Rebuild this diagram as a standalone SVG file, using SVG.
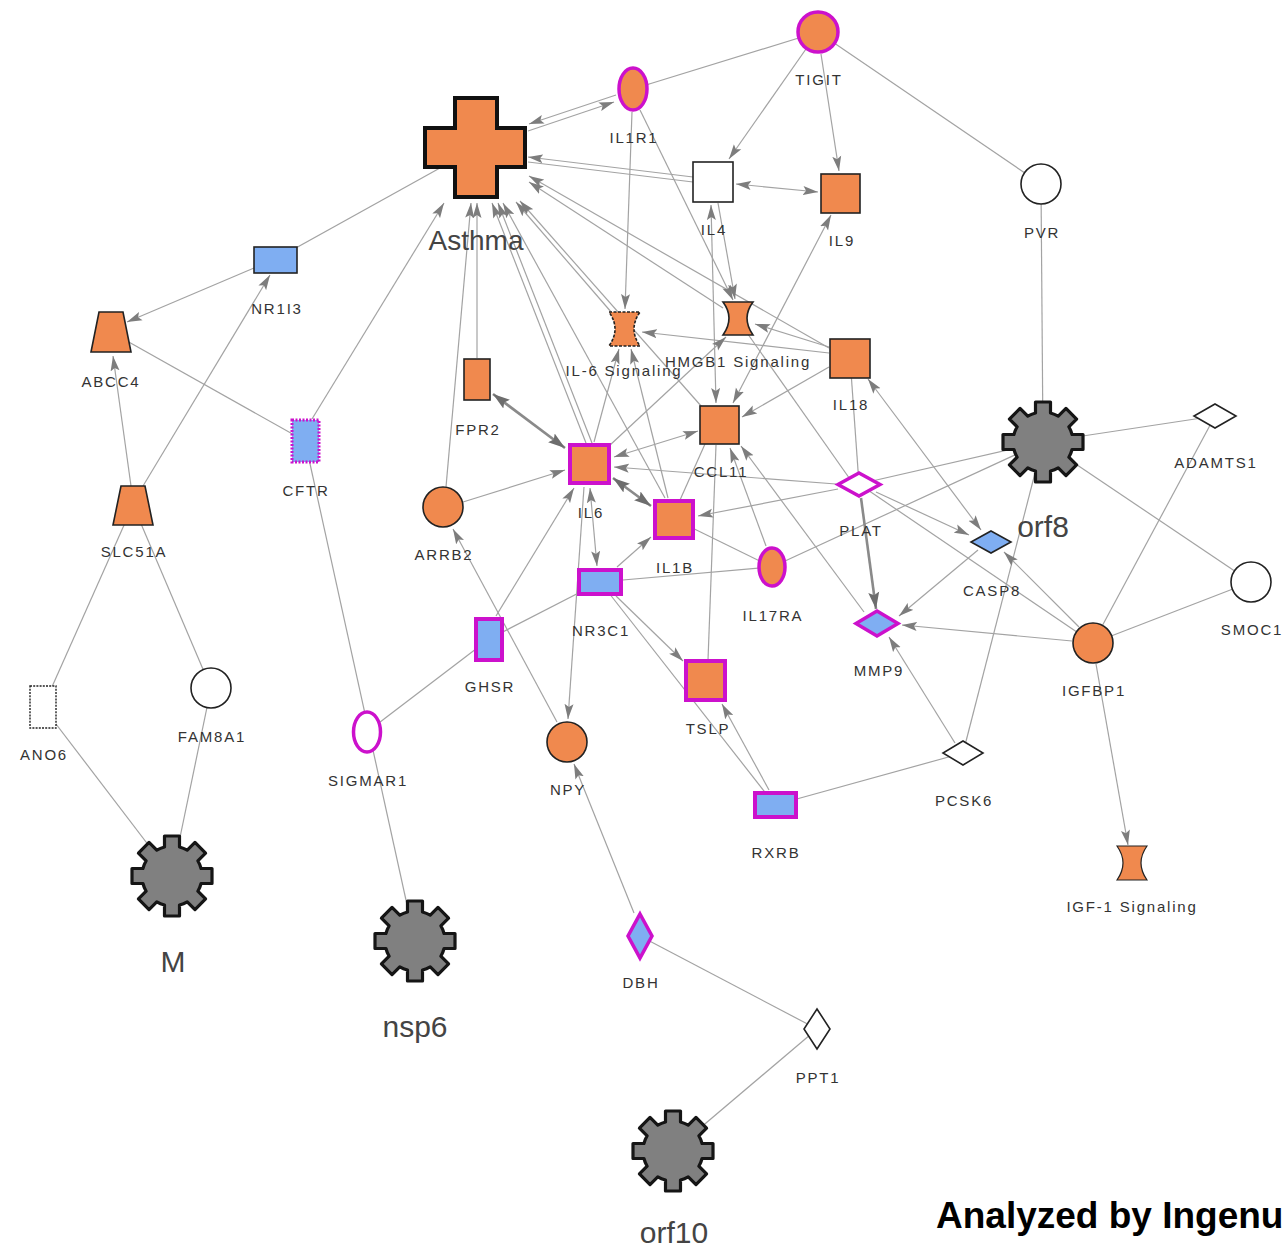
<svg xmlns="http://www.w3.org/2000/svg" xmlns:xlink="http://www.w3.org/1999/xlink" width="1285" height="1249" viewBox="0 0 1285 1249">
<style>
.e{stroke:#a3a3a3;stroke-width:1.2;fill:none}
.a{stroke:#a3a3a3;stroke-width:1.2;fill:none;marker-end:url(#ah)}
.b{stroke:#a3a3a3;stroke-width:1.2;fill:none;marker-end:url(#ah);marker-start:url(#ahs)}
.t{stroke:#8a8a8a;stroke-width:2.6;fill:none;marker-end:url(#ah2)}
.tb{stroke:#8a8a8a;stroke-width:2.6;fill:none;marker-end:url(#ah2);marker-start:url(#ah2s)}
.or{fill:#F0894E;stroke:#222;stroke-width:1.6}
.orm{fill:#F0894E;stroke:#CC11CC;stroke-width:4}
.blm{fill:#7FAEF2;stroke:#CC11CC;stroke-width:4}
.bl{fill:#7FAEF2;stroke:#222;stroke-width:1.6}
.wh{fill:#fff;stroke:#222;stroke-width:1.6}
.whm{fill:#fff;stroke:#CC11CC;stroke-width:3.5}
.gear{fill:#808080;stroke:#151515;stroke-width:3.2;stroke-linejoin:round}
.lb{font-family:"Liberation Sans",Arial,sans-serif;font-size:15px;fill:#333;text-anchor:middle;letter-spacing:1.8px}
.lg{font-family:"Liberation Sans",Arial,sans-serif;font-size:30px;fill:#444;text-anchor:middle}
</style>
<defs>
<marker id="ah" markerUnits="userSpaceOnUse" markerWidth="16" markerHeight="10" refX="15" refY="5" orient="auto"><path d="M0,0.5 L15,5 L0,9.5 L3,5 z" fill="#7d7d7d"/></marker>
<marker id="ahs" markerUnits="userSpaceOnUse" markerWidth="16" markerHeight="10" refX="15" refY="5" orient="auto-start-reverse"><path d="M0,0.5 L15,5 L0,9.5 L3,5 z" fill="#7d7d7d"/></marker>
<marker id="ah2" markerUnits="userSpaceOnUse" markerWidth="18" markerHeight="12" refX="17" refY="6" orient="auto"><path d="M0,0.5 L17,6 L0,11.5 L3,6 z" fill="#6d6d6d"/></marker>
<marker id="ah2s" markerUnits="userSpaceOnUse" markerWidth="18" markerHeight="12" refX="17" refY="6" orient="auto-start-reverse"><path d="M0,0.5 L17,6 L0,11.5 L3,6 z" fill="#6d6d6d"/></marker>
<path id="gearp" d="M-7.5,-29.05 L-7.5,-40 L7.5,-40 L7.5,-29.05 A30 30 0 0 1 15.24,-25.84 L22.98,-33.58 L33.58,-22.98 L25.84,-15.24 A30 30 0 0 1 29.05,-7.5 L40,-7.5 L40,7.5 L29.05,7.5 A30 30 0 0 1 25.84,15.24 L33.58,22.98 L22.98,33.58 L15.24,25.84 A30 30 0 0 1 7.5,29.05 L7.5,40 L-7.5,40 L-7.5,29.05 A30 30 0 0 1 -15.24,25.84 L-22.98,33.58 L-33.58,22.98 L-25.84,15.24 A30 30 0 0 1 -29.05,7.5 L-40,7.5 L-40,-7.5 L-29.05,-7.5 A30 30 0 0 1 -25.84,-15.24 L-33.58,-22.98 L-22.98,-33.58 L-15.24,-25.84 A30 30 0 0 1 -7.5,-29.05 Z"/>
</defs>
<rect width="1285" height="1249" fill="#fff"/>
<g id="connectors">
<line class="e" x1="818" y1="32" x2="633" y2="89"/>
<line class="e" x1="818" y1="32" x2="1041" y2="184"/>
<line class="e" x1="850" y1="358" x2="859" y2="484"/>
<line class="e" x1="674" y1="519" x2="772" y2="567"/>
<line class="e" x1="680" y1="500" x2="705" y2="444"/>
<line class="e" x1="708" y1="660" x2="716" y2="445"/>
<line class="e" x1="600" y1="582" x2="772" y2="567"/>
<line class="e" x1="489" y1="639" x2="600" y2="582"/>
<line class="e" x1="605" y1="588" x2="775" y2="805"/>
<line class="e" x1="775" y1="805" x2="963" y2="753"/>
<line class="e" x1="367" y1="732" x2="489" y2="639"/>
<line class="e" x1="305" y1="441" x2="415" y2="941"/>
<line class="e" x1="640" y1="936" x2="817" y2="1029"/>
<line class="e" x1="817" y1="1029" x2="673" y2="1151"/>
<line class="e" x1="111" y1="332" x2="305" y2="441"/>
<line class="e" x1="43" y1="707" x2="133" y2="505"/>
<line class="e" x1="211" y1="688" x2="133" y2="505"/>
<line class="e" x1="43" y1="707" x2="172" y2="876"/>
<line class="e" x1="211" y1="688" x2="172" y2="876"/>
<line class="e" x1="1041" y1="184" x2="1043" y2="442"/>
<line class="e" x1="1043" y1="442" x2="1215" y2="416"/>
<line class="e" x1="1043" y1="442" x2="1251" y2="582"/>
<line class="e" x1="1043" y1="442" x2="859" y2="484"/>
<line class="e" x1="1043" y1="442" x2="772" y2="567"/>
<line class="e" x1="1043" y1="442" x2="963" y2="753"/>
<line class="e" x1="1215" y1="416" x2="1093" y2="643"/>
<line class="e" x1="1251" y1="582" x2="1093" y2="643"/>
<line class="e" x1="1093" y1="643" x2="859" y2="484"/>
<line class="e" x1="276" y1="259" x2="476" y2="148"/>
<line class="e" x1="745" y1="330" x2="852" y2="482"/>
<line class="a" x1="616" y1="95" x2="529" y2="124"/>
<line class="a" x1="528" y1="131" x2="614" y2="102"/>
<line class="a" x1="693" y1="177" x2="528" y2="157"/>
<line class="e" x1="693" y1="182" x2="528" y2="162"/>
<line class="a" x1="829" y1="348" x2="529" y2="176"/>
<line class="a" x1="723" y1="308" x2="529" y2="182"/>
<line class="a" x1="702" y1="407" x2="520" y2="201"/>
<line class="a" x1="612" y1="313" x2="516" y2="202"/>
<line class="a" x1="665" y1="498" x2="503" y2="203"/>
<line class="a" x1="586" y1="443" x2="492" y2="203"/>
<line class="a" x1="592" y1="443" x2="498" y2="203"/>
<line class="a" x1="477" y1="358" x2="477" y2="203"/>
<line class="a" x1="446" y1="487" x2="471" y2="203"/>
<line class="a" x1="312" y1="419" x2="444" y2="203"/>
<line class="a" x1="806" y1="49" x2="729" y2="159"/>
<line class="a" x1="821" y1="54" x2="839" y2="171"/>
<line class="a" x1="632" y1="112" x2="625" y2="309"/>
<line class="a" x1="640" y1="110" x2="733" y2="300"/>
<line class="a" x1="718" y1="203" x2="735" y2="299"/>
<line class="b" x1="711" y1="205" x2="716" y2="403"/>
<line class="b" x1="736" y1="184" x2="818" y2="192"/>
<line class="b" x1="831" y1="215" x2="733" y2="403"/>
<line class="a" x1="829" y1="353" x2="642" y2="332"/>
<line class="a" x1="829" y1="347" x2="755" y2="324"/>
<line class="a" x1="829" y1="367" x2="742" y2="417"/>
<line class="a" x1="594" y1="442" x2="619" y2="349"/>
<line class="a" x1="668" y1="498" x2="631" y2="349"/>
<line class="a" x1="609" y1="446" x2="726" y2="337"/>
<line class="a" x1="463" y1="502" x2="565" y2="470"/>
<line class="a" x1="496" y1="616" x2="574" y2="488"/>
<line class="tb" x1="493" y1="394" x2="565" y2="448"/>
<line class="b" x1="698" y1="431" x2="614" y2="457"/>
<line class="a" x1="836" y1="484" x2="614" y2="467"/>
<line class="tb" x1="613" y1="478" x2="651" y2="506"/>
<line class="b" x1="590" y1="488" x2="597" y2="566"/>
<line class="a" x1="584" y1="487" x2="568" y2="719"/>
<line class="a" x1="617" y1="567" x2="651" y2="537"/>
<line class="a" x1="838" y1="489" x2="698" y2="516"/>
<line class="a" x1="616" y1="596" x2="683" y2="661"/>
<line class="a" x1="769" y1="790" x2="722" y2="704"/>
<line class="a" x1="634" y1="913" x2="574" y2="764"/>
<line class="a" x1="557" y1="722" x2="453" y2="529"/>
<line class="a" x1="864" y1="612" x2="741" y2="446"/>
<line class="a" x1="766" y1="546" x2="730" y2="448"/>
<line class="a" x1="254" y1="268" x2="127" y2="322"/>
<line class="a" x1="143" y1="486" x2="270" y2="275"/>
<line class="a" x1="131" y1="486" x2="113" y2="356"/>
<line class="a" x1="876" y1="492" x2="969" y2="535"/>
<line class="b" x1="868" y1="379" x2="981" y2="530"/>
<line class="a" x1="978" y1="550" x2="899" y2="616"/>
<line class="t" x1="861" y1="498" x2="876" y2="609"/>
<line class="a" x1="1072" y1="641" x2="902" y2="625"/>
<line class="a" x1="1079" y1="627" x2="1004" y2="552"/>
<line class="a" x1="955" y1="743" x2="889" y2="637"/>
<line class="a" x1="1096" y1="664" x2="1128" y2="845"/>
</g>
<g id="n-asthma"><path class="or" style="stroke:#111;stroke-width:4" d="M455,98 H497 V128 H525 V167 H497 V197 H455 V167 H425 V128 H455 Z"/><text x="476" y="250" style="font-family:'Liberation Sans',Arial,sans-serif;font-size:28px;fill:#444;text-anchor:middle">Asthma</text></g>
<g id="n-tigit"><circle class="orm" cx="818" cy="32" r="20" style="stroke-width:3.5"/><text class="lb" x="819" y="85">TIGIT</text></g>
<g id="n-il1r1"><ellipse class="orm" cx="633" cy="89" rx="14" ry="21" style="stroke-width:3.5"/><text class="lb" x="634" y="143">IL1R1</text></g>
<g id="n-il4"><rect class="wh" x="693" y="162" width="40" height="40"/><text class="lb" x="714" y="235">IL4</text></g>
<g id="n-il9"><rect class="or" x="821" y="174" width="39" height="39"/><text class="lb" x="842" y="246">IL9</text></g>
<g id="n-pvr"><circle class="wh" cx="1041" cy="184" r="20"/><text class="lb" x="1042" y="238">PVR</text></g>
<g id="n-nr1i3"><rect class="bl" x="254" y="247" width="43" height="26"/><text class="lb" x="277" y="314">NR1I3</text></g>
<g id="n-abcc4"><path class="or" d="M99,312 H123 L131,352 H91 Z"/><text class="lb" x="111" y="387">ABCC4</text></g>
<g id="n-cftr"><rect x="292" y="420" width="27" height="42" fill="#7FAEF2" stroke="#CC11CC" stroke-width="3" stroke-dasharray="2,1.5"/><text class="lb" x="306" y="496">CFTR</text></g>
<g id="n-il6sig"><path class="or" style="stroke-dasharray:3,1.5" d="M609,312 H640 Q628,329 640,346 H609 Q621,329 609,312 Z"/><text class="lb" x="624" y="376">IL-6 Signaling</text></g>
<g id="n-hmgb1"><path class="or" d="M723,302 H753 Q741,318 753,335 H723 Q735,318 723,302 Z"/><text class="lb" x="738" y="367">HMGB1 Signaling</text></g>
<g id="n-il18"><rect class="or" x="830" y="339" width="40" height="39"/><text class="lb" x="851" y="410">IL18</text></g>
<g id="n-fpr2"><rect class="or" x="464" y="359" width="26" height="41"/><text class="lb" x="478" y="435">FPR2</text></g>
<g id="n-ccl11"><rect class="or" x="700" y="406" width="39" height="38"/><text class="lb" x="721" y="477">CCL11</text></g>
<g id="n-il6"><rect class="orm" x="570" y="445" width="39" height="38"/><text class="lb" x="591" y="518">IL6</text></g>
<g id="n-arrb2"><circle class="or" cx="443" cy="507" r="20"/><text class="lb" x="444" y="560">ARRB2</text></g>
<g id="n-plat"><path class="whm" d="M859,473 L880,484.5 L859,496 L838,484.5 Z"/><text class="lb" x="861" y="536">PLAT</text></g>
<g id="n-il1b"><rect class="orm" x="655" y="501" width="38" height="37"/><text class="lb" x="675" y="573">IL1B</text></g>
<g id="n-casp8"><path class="bl" d="M991,531 L1011,542 L991,553 L971,542 Z"/><text class="lb" x="992" y="596">CASP8</text></g>
<g id="n-orf8"><use xlink:href="#gearp" href="#gearp" class="gear" x="1043" y="442"/><text class="lg" x="1043" y="537">orf8</text></g>
<g id="n-adamts1"><path class="wh" d="M1215,404 L1236,416 L1215,428 L1194,416 Z"/><text class="lb" x="1216" y="468">ADAMTS1</text></g>
<g id="n-slc51a"><path class="or" d="M121,486 H145 L153,525 H113 Z"/><text class="lb" x="134" y="557">SLC51A</text></g>
<g id="n-nr3c1"><rect class="blm" x="579" y="570" width="42" height="24"/><text class="lb" x="601" y="636">NR3C1</text></g>
<g id="n-il17ra"><ellipse class="orm" cx="772" cy="567" rx="13" ry="19" style="stroke-width:3.5"/><text class="lb" x="773" y="621">IL17RA</text></g>
<g id="n-mmp9"><path class="blm" style="stroke-width:3.5" d="M877,611 L898,623.5 L877,636 L856,623.5 Z"/><text class="lb" x="879" y="676">MMP9</text></g>
<g id="n-smoc1"><circle class="wh" cx="1251" cy="582" r="20"/><text class="lb" x="1252" y="635">SMOC1</text></g>
<g id="n-igfbp1"><circle class="or" cx="1093" cy="643" r="20"/><text class="lb" x="1094" y="696">IGFBP1</text></g>
<g id="n-ghsr"><rect class="blm" x="476" y="619" width="26" height="41"/><text class="lb" x="490" y="692">GHSR</text></g>
<g id="n-tslp"><rect class="orm" x="686" y="661" width="39" height="39"/><text class="lb" x="708" y="734">TSLP</text></g>
<g id="n-ano6"><rect x="30" y="686" width="26" height="42" fill="#fff" stroke="#222" stroke-width="1.4" stroke-dasharray="2,1.2"/><text class="lb" x="44" y="760">ANO6</text></g>
<g id="n-fam8a1"><circle class="wh" cx="211" cy="688" r="20"/><text class="lb" x="212" y="742">FAM8A1</text></g>
<g id="n-sigmar1"><ellipse class="whm" cx="367" cy="732" rx="13.5" ry="20"/><text class="lb" x="368" y="786">SIGMAR1</text></g>
<g id="n-npy"><circle class="or" cx="567" cy="742" r="20"/><text class="lb" x="568" y="795">NPY</text></g>
<g id="n-pcsk6"><path class="wh" d="M963,741 L983,753 L963,765 L943,753 Z"/><text class="lb" x="964" y="806">PCSK6</text></g>
<g id="n-rxrb"><rect class="blm" x="755" y="793" width="41" height="24"/><text class="lb" x="776" y="858">RXRB</text></g>
<g id="n-m"><use xlink:href="#gearp" href="#gearp" class="gear" x="172" y="876"/><text class="lg" x="173" y="972">M</text></g>
<g id="n-igf1"><path class="or" style="stroke-width:1.2" d="M1117,846 H1147 Q1135,863 1147,880 H1117 Q1129,863 1117,846 Z"/><text class="lb" x="1132" y="912">IGF-1 Signaling</text></g>
<g id="n-nsp6"><use xlink:href="#gearp" href="#gearp" class="gear" x="415" y="941"/><text class="lg" x="415" y="1037">nsp6</text></g>
<g id="n-dbh"><path class="blm" style="stroke-width:3.5" d="M640,914 L652,936 L640,958 L628,936 Z"/><text class="lb" x="641" y="988">DBH</text></g>
<g id="n-ppt1"><path class="wh" d="M817,1009 L830,1029 L817,1049 L804,1029 Z"/><text class="lb" x="818" y="1083">PPT1</text></g>
<g id="n-orf10"><use xlink:href="#gearp" href="#gearp" class="gear" x="673" y="1151"/><text class="lg" x="674" y="1243">orf10</text></g>
<text x="936" y="1228" style="font-family:'Liberation Sans',Arial,sans-serif;font-size:37px;font-weight:bold;fill:#000">Analyzed by Ingenu</text>
</svg>
